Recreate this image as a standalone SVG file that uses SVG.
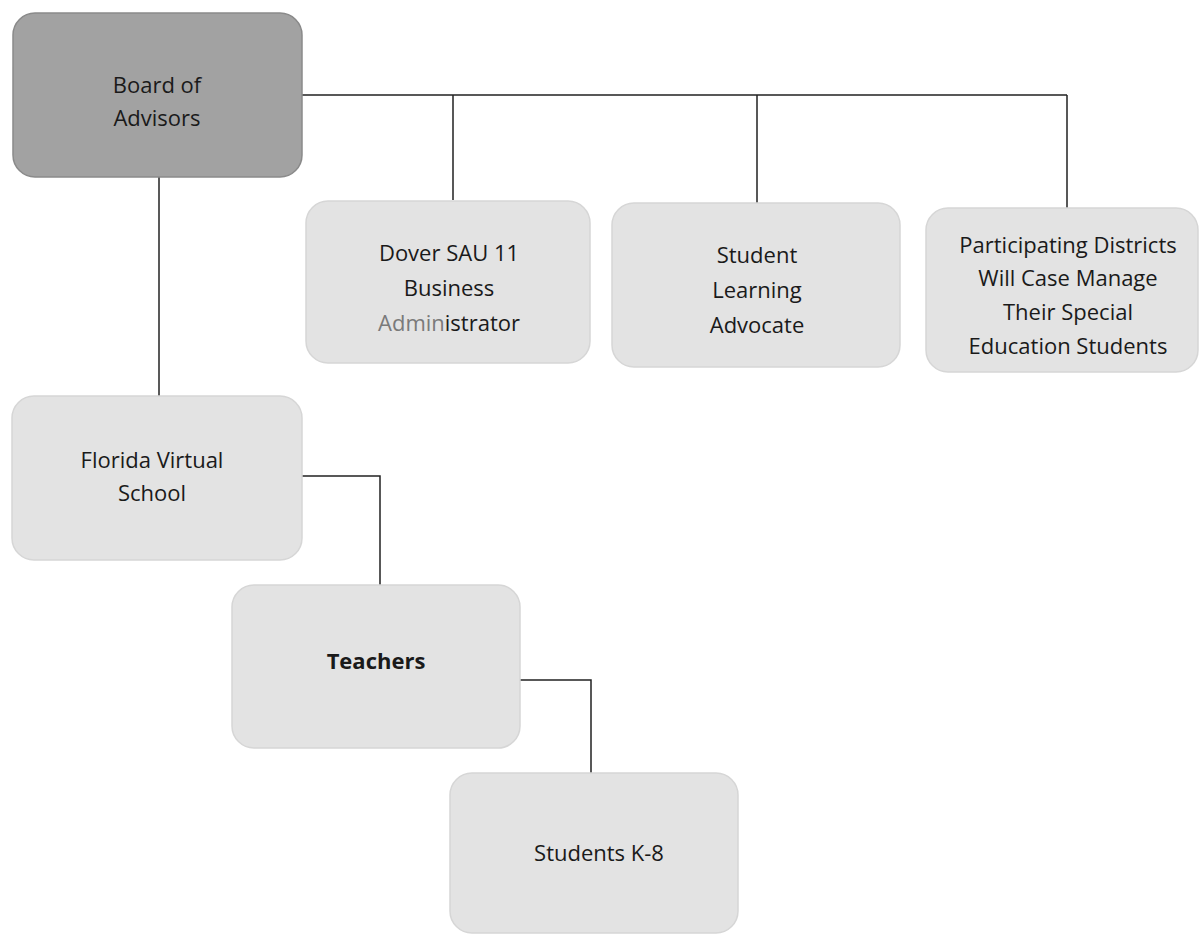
<svg xmlns="http://www.w3.org/2000/svg" width="1199" height="934" viewBox="0 0 1199 934">
<style>
.box{fill:#e3e3e3;stroke:#d6d6d6;stroke-width:1.5}
.dark{fill:#a2a2a2;stroke:#8a8a8a;stroke-width:1.5}
.t{font-family:"Open Sans","Liberation Sans",sans-serif;font-size:22px;fill:#1a1a1a;text-anchor:middle}
.c{stroke:#222;stroke-width:1.5;fill:none}
</style>
<rect width="1199" height="934" fill="#ffffff"/>
<g id="connectors">
<path class="c" d="M302 95 H1067 M453 95 V200 M757 95 V203 M1067 95 V208"/>
<path class="c" d="M159 177 V396"/>
<path class="c" d="M302 476 H380 V585"/>
<path class="c" d="M520 680 H591 V773"/>
</g>
<g id="board">
<rect class="dark" x="13" y="13" width="289" height="164" rx="22"/>
<text class="t" x="157" y="93">Board of</text>
<text class="t" x="157" y="126">Advisors</text>
</g>
<g id="dover">
<rect class="box" x="306" y="201" width="284" height="162" rx="22"/>
<text class="t" x="449" y="261">Dover SAU 11</text>
<text class="t" x="449" y="296">Business</text>
<text class="t" x="449" y="331"><tspan fill="#7a7a7a">Admin</tspan>istrator</text>
</g>
<g id="advocate">
<rect class="box" x="612" y="203" width="288" height="164" rx="22"/>
<text class="t" x="757" y="263">Student</text>
<text class="t" x="757" y="298">Learning</text>
<text class="t" x="757" y="333">Advocate</text>
</g>
<g id="districts">
<rect class="box" x="926" y="208" width="272" height="164" rx="22"/>
<text class="t" x="1068" y="253">Participating Districts</text>
<text class="t" x="1068" y="286">Will Case Manage</text>
<text class="t" x="1068" y="320">Their Special</text>
<text class="t" x="1068" y="354">Education Students</text>
</g>
<g id="flvs">
<rect class="box" x="12" y="396" width="290" height="164" rx="22"/>
<text class="t" x="152" y="468">Florida Virtual</text>
<text class="t" x="152" y="501">School</text>
</g>
<g id="teachers">
<rect class="box" x="232" y="585" width="288" height="163" rx="22"/>
<text class="t" x="376" y="669" font-weight="bold">Teachers</text>
</g>
<g id="students">
<rect class="box" x="450" y="773" width="288" height="160" rx="22"/>
<text class="t" x="599" y="861">Students K-8</text>
</g>
</svg>
